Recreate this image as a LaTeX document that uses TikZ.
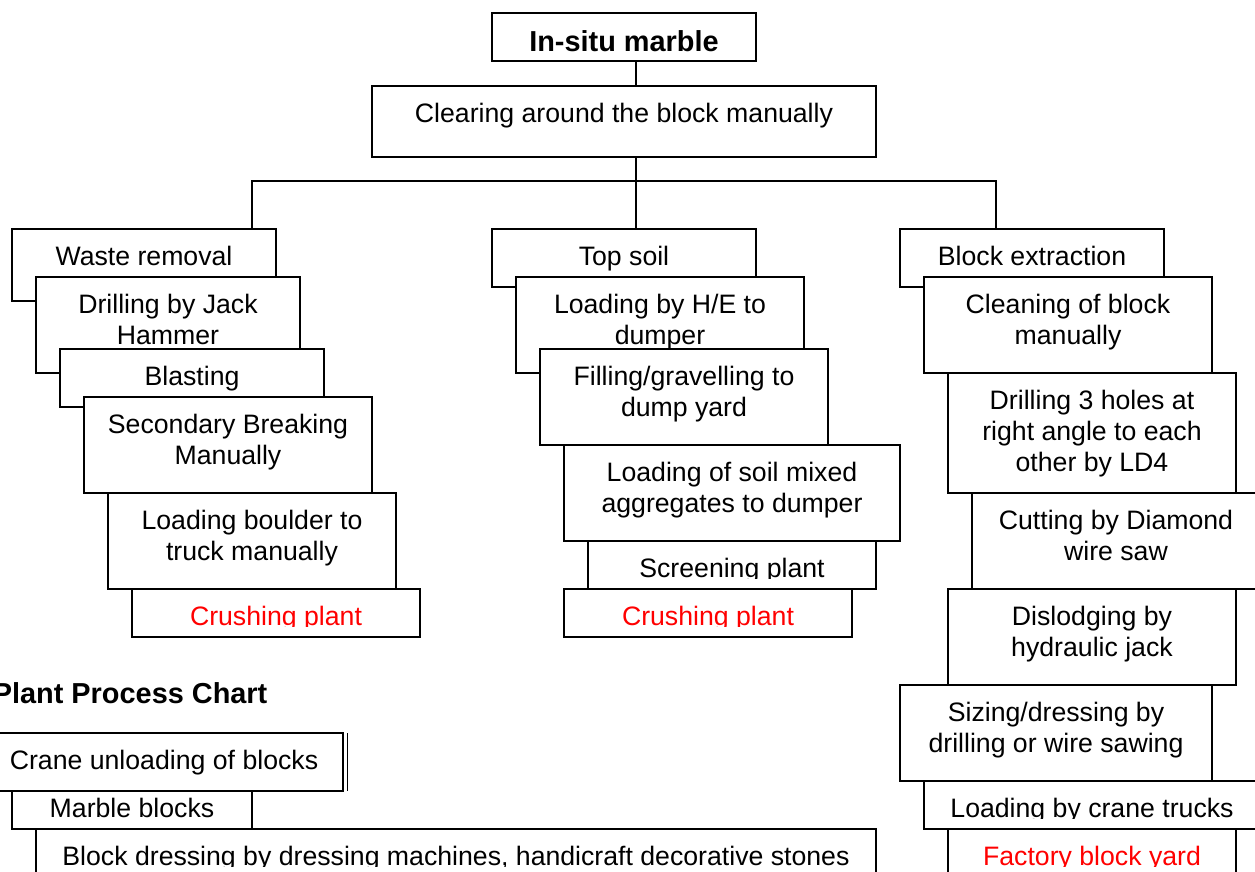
\documentclass[tikz,border=0pt]{standalone}
\usepackage{fontspec}
\setmainfont{Liberation Sans}
\usepackage{tikz}
\usetikzlibrary{fit}
\def\cut{11}
\def\pbox#1#2#3#4#5#6#7{\node [box,fit={(#2,#3)(#4,#5)}] (#1) {};
  \begin{scope}\clip (#2,#3) rectangle (#4,#5-\cut);
  \node [txt,#7] at ({(#2+#4)/2},#3+17) {#6};\end{scope}}
\tikzstyle{box}=[draw,fill=white,line width=0.7pt,inner sep=0pt,outer sep=0pt]
\tikzstyle{txt}=[inner sep=0pt,anchor=north,align=center,font=\fontsize{12}{13.8}\selectfont]
\tikzstyle{ttl}=[font=\fontsize{13}{15}\selectfont\bfseries]
\tikzstyle{hot}+=[text=red]
\tikzstyle{wire}=[line width=0.7pt]

\begin{document}
\begin{tikzpicture}[x=0.45pt,y=-0.45pt]
    \useasboundingbox (0,0) rectangle (1255,872);
    {\def\cut{0}\pbox{insitu}{492}{13}{756}{61}{In-situ marble}{ttl};}
    \pbox{clearing}{372}{86}{876}{157}{Clearing around the block manually}{};
    % waste side
    \pbox{waste}{12}{229}{276}{301}{Waste removal}{};
    \pbox{jack}{36}{277}{300}{373}{Drilling by Jack\\Hammer}{};
    \pbox{blast}{60}{349}{324}{407}{Blasting}{};
    \pbox{breaking}{84}{397}{372}{493}{Secondary Breaking\\Manually}{};
    \pbox{boulder}{108}{493}{396}{589}{Loading boulder to\\truck manually}{};
    \pbox{crushL}{132}{589}{420}{637}{Crushing plant}{hot};
    % top soil side
    \pbox{topsoil}{492}{229}{756}{287}{Top soil}{};
    \pbox{hedump}{516}{277}{804}{373}{Loading by H/E to\\dumper}{};
    \pbox{filling}{540}{349}{828}{445}{Filling/gravelling to\\dump yard}{};
    \pbox{mixed}{564}{445}{900}{541}{Loading of soil mixed\\aggregates to dumper}{};
    \pbox{screen}{588}{541}{876}{589}{Screening plant}{};
    \pbox{crushM}{564}{589}{852}{637}{Crushing plant}{hot};
    % block side
    \pbox{extract}{900}{229}{1164}{287}{Block extraction}{};
    \pbox{cleaning}{924}{277}{1212}{373}{Cleaning of block\\manually}{};
    \pbox{holes}{948}{373}{1236}{493}{Drilling 3 holes at\\right angle to each\\other by LD4}{};
    \pbox{diamond}{972}{493}{1260}{589}{Cutting by Diamond\\wire saw}{};
    \pbox{dislodge}{948}{589}{1236}{685}{Dislodging by\\hydraulic jack}{};
    \pbox{sizing}{900}{685}{1212}{781}{Sizing/dressing by\\drilling or wire sawing}{};
    \pbox{trucks}{924}{781}{1260}{829}{Loading by crane trucks}{};
    \pbox{yard}{948}{829}{1236}{877}{Factory block yard}{hot};
    % plant chart
    \node [txt,ttl,anchor=base west] (chart) at (-7.6,703) {Plant Process Chart};
    \pbox{crane}{-15}{733}{343}{791}{Crane unloading of blocks}{};
    \draw [wire] ([xshift=2pt]crane.north east) -- ([xshift=2pt]crane.south east);
    {\def\cut{0}\pbox{marble}{12}{791}{252}{829}{Marble blocks}{yshift=4.5pt};}
    \pbox{dressing}{36}{829}{876}{877}{Block dressing by dressing machines, handicraft decorative stones}{};
    % links
    \coordinate (spine) at (636,0);
    \coordinate (busL) at (252,181);
    \coordinate (busR) at (996,181);
    \draw [wire] (insitu.south -| spine) -- (clearing.north -| spine);
    \draw [wire] (clearing.south -| spine) -- (topsoil.north -| spine);
    \draw [wire] (waste.north -| busL) |- (busR) -- (extract.north -| busR);
  \end{tikzpicture}
\end{document}
